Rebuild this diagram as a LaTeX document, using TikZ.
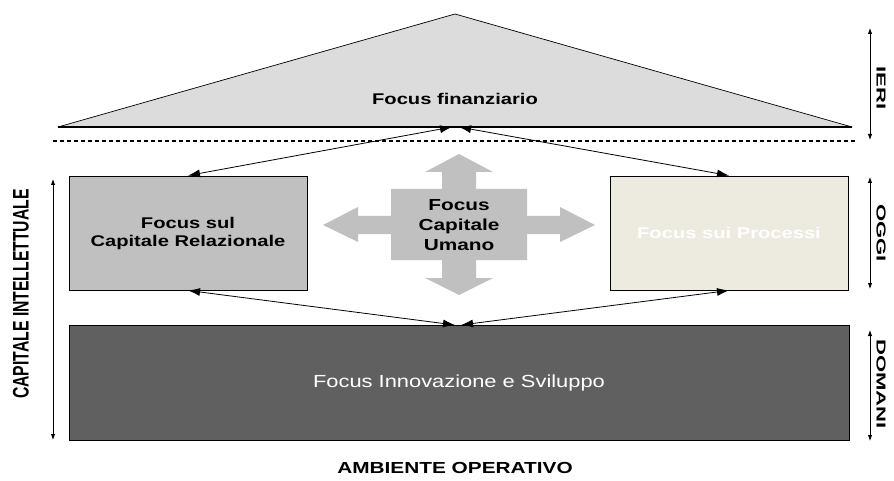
\documentclass[tikz,border=0pt]{standalone}
\usepackage{fontspec}
\setmainfont{Liberation Sans}[FakeStretch=1.3]
\newfontfamily\sidefont{Liberation Sans}[FakeStretch=1.7]
\newfontfamily\axisfont{Liberation Sans}[FakeStretch=0.7]
\newfontfamily\innofont{Liberation Sans}[FakeStretch=1.25]
\usetikzlibrary{arrows.meta}
\definecolor{fingray}{HTML}{DCDCDC}
\definecolor{relgray}{HTML}{C0C0C0}
\definecolor{procbeige}{HTML}{EDEAE0}
\definecolor{innogray}{HTML}{606060}
\definecolor{crossgray}{HTML}{C0C0C0}
\tikzset{
  focusbox/.style={draw=black, line width=0.9pt, minimum width=238pt, minimum height=114pt,
    align=center, font=\bfseries\fontsize{15.5}{18}\selectfont},
  link/.style={{Latex[length=12pt,width=8pt]}-{Latex[length=12pt,width=8pt]}, line width=0.8pt},
  era/.style={{Latex[length=6pt,width=4.5pt]}-{Latex[length=6pt,width=4.5pt]}, line width=0.9pt},
  eralabel/.style={rotate=-90, font=\sidefont\bfseries\fontsize{13}{15}\selectfont}
}
\begin{document}
\begin{tikzpicture}[x=1pt,y=-1pt]
            \useasboundingbox (0,0) rectangle (894,481);
            % ieri
            \coordinate (tl) at (58,127);
            \coordinate (apex) at (455,14);
            \coordinate (tr) at (852,127);
            \draw[fill=fingray, line width=0.7pt, line join=round] (tl)--(apex)--(tr)--cycle;
            \draw[line width=2pt] (tl)--(tr);
            \node[font=\bfseries\fontsize{15.5}{18}\selectfont] (fin) at (455,99) {Focus finanziario};
            \draw[dash pattern=on 4pt off 3pt, line width=1.1pt] (53,141)--(855,141);
            % oggi
            \node[focusbox, fill=relgray] (rel) at (188,233) {Focus sul\\Capitale Relazionale};
            \node[focusbox, fill=procbeige, text=white] (proc) at (729,233) {Focus sui Processi};
            \fill[crossgray, shift={(459,225)}] (0,-71)--(34,-53)--(17,-53)--(17,-36)--(68,-36)--(68,-9)--(101,-9)--(101,-18)--(136,0)--(101,17)--(101,9)--(68,9)--(68,35)--(17,35)--(17,53)--(34,53)--(0,70)--(-34,53)--(-17,53)--(-17,35)--(-68,35)--(-68,9)--(-101,9)--(-101,17)--(-136,0)--(-101,-18)--(-101,-9)--(-68,-9)--(-68,-36)--(-17,-36)--(-17,-53)--(-34,-53)--cycle;
            \node[align=center, font=\bfseries\fontsize{16}{20}\selectfont] (umano) at (459,225) {Focus\\Capitale\\Umano};
            % domani
            \node[focusbox, fill=innogray, minimum width=780pt, minimum height=115pt, text=white,
                  font=\innofont\fontsize{17.5}{20}\selectfont] (inno) at (459,382.5) {Focus Innovazione e Sviluppo};
            % frecce
            \coordinate (hubL) at (452,127);
            \coordinate (hubR) at (459,127);
            \coordinate (botL) at (455,325);
            \coordinate (botR) at (461,325);
            \draw[link] (rel.north)--(hubL);
            \draw[link] (hubR)--(proc.north);
            \draw[link] (rel.south)--(botL);
            \draw[link] (botR)--(proc.south);
            % assi
            \coordinate (ieriA) at (870,28);  \coordinate (ieriB) at (870,140);
            \coordinate (oggiA) at (870,177); \coordinate (oggiB) at (870,289);
            \coordinate (domA) at (870,330);  \coordinate (domB) at (870,441);
            \coordinate (capA) at (53,179);   \coordinate (capB) at (53,440);
            \draw[era] (ieriA)--(ieriB);
            \draw[era] (oggiA)--(oggiB);
            \draw[era] (domA)--(domB);
            \draw[era] (capA)--(capB);
            \node[eralabel] (ieri) at (881,88) {IERI};
            \node[eralabel] (oggi) at (881,233) {OGGI};
            \node[eralabel] (domani) at (881,384) {DOMANI};
            \node[rotate=90, font=\axisfont\bfseries\fontsize{22.5}{24}\selectfont] (capitale) at (21,294) {CAPITALE INTELLETTUALE};
            \node[font=\bfseries\fontsize{16}{18}\selectfont] (ambiente) at (455,468) {AMBIENTE OPERATIVO};
\end{tikzpicture}
\end{document}
